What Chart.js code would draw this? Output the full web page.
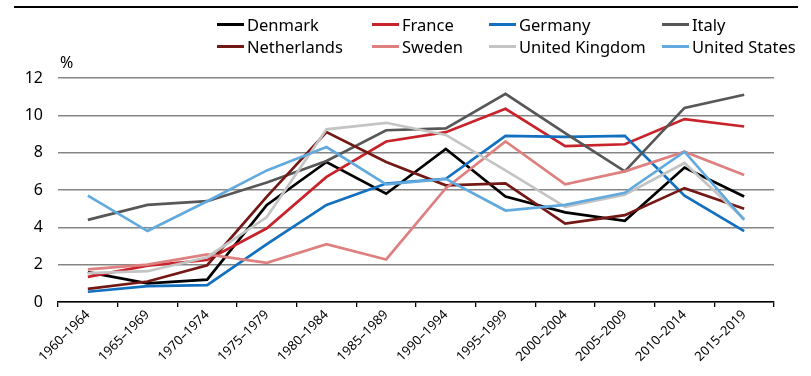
<!DOCTYPE html>
<html>
<head>
<meta charset="utf-8">
<script src="https://cdn.jsdelivr.net/npm/chart.js@4/dist/chart.umd.min.js"></script>
<style>
  html, body { margin: 0; padding: 0; background: #fff; }
  #wrap { position: relative; width: 811px; height: 376px; font-family: "Noto Sans", sans-serif; color: #000; }
  #chart { position: absolute; left: 0; top: 0; }
  #topRule { position: absolute; left: 14px; top: 6px; width: 784px; height: 2px; background: #000; }
  #unit { position: absolute; left: 60px; top: 51px; font-size: 16px; }
  .legend-item { position: absolute; display: flex; align-items: center; font-size: 16.5px; white-space: nowrap; }
  .legend-item .swatch { width: 27px; height: 3px; margin-right: 3px; }
</style>
</head>
<body>
<div id="wrap">
  <canvas id="chart" width="811" height="376"></canvas>
  <div id="topRule"></div>
  <div id="unit">%</div>
</div>
<script>
const periods = ['1960–1964', '1965–1969', '1970–1974', '1975–1979', '1980–1984', '1985–1989',
                 '1990–1994', '1995–1999', '2000–2004', '2005–2009', '2010–2014', '2015–2019'];

const denmark     = [1.6, 1.0, 1.2, 5.2, 7.5, 5.8, 8.2, 5.65, 4.8, 4.35, 7.2, 5.65];
const france      = [1.35, 1.95, 2.25, 3.95, 6.7, 8.6, 9.1, 10.35, 8.35, 8.45, 9.8, 9.4];
const germany     = [0.55, 0.85, 0.9, 3.1, 5.2, 6.35, 6.6, 8.9, 8.85, 8.9, 5.7, 3.8];
const italy       = [4.4, 5.2, 5.4, 6.4, 7.55, 9.2, 9.3, 11.15, 9.05, 7.0, 10.4, 11.1];
const netherlands = [0.7, 1.1, 1.97, 5.65, 9.1, 7.5, 6.25, 6.35, 4.2, 4.65, 6.1, 5.0];
const sweden      = [1.75, 2.0, 2.55, 2.1, 3.1, 2.28, 6.1, 8.6, 6.3, 7.0, 8.05, 6.8];
const unitedKingdom = [1.55, 1.65, 2.4, 4.55, 9.25, 9.6, 8.95, 7.05, 5.1, 5.75, 7.45, 4.45];
const unitedStates  = [5.7, 3.8, 5.4, 7.05, 8.3, 6.3, 6.6, 4.9, 5.2, 5.85, 8.05, 4.4];

const yTicks = [0, 2, 4, 6, 8, 10, 12];

const series = [
  { label: 'Denmark',        data: denmark,       color: '#000000' },
  { label: 'France',         data: france,        color: '#c8232b' },
  { label: 'Germany',        data: germany,       color: '#1270bf' },
  { label: 'Italy',          data: italy,         color: '#575757' },
  { label: 'Netherlands',    data: netherlands,   color: '#731815' },
  { label: 'Sweden',         data: sweden,        color: '#df8080' },
  { label: 'United Kingdom', data: unitedKingdom, color: '#c4c4c4' },
  { label: 'United States',  data: unitedStates,  color: '#62aade' }
];

// legend: two rows of four, placed over the canvas
const legendCols = [217, 372, 489, 662];
const legendRows = [13, 35];
const wrap = document.getElementById('wrap');
series.forEach((s, i) => {
  const item = document.createElement('div');
  item.className = 'legend-item';
  item.style.left = legendCols[i % 4] + 'px';
  item.style.top = legendRows[Math.floor(i / 4)] + 'px';
  item.innerHTML = `<span class="swatch" style="background:${s.color}"></span>${s.label}`;
  wrap.appendChild(item);
});

const ctx = document.getElementById('chart').getContext('2d');
new Chart(ctx, {
  type: 'line',
  data: {
    labels: periods,
    datasets: series.map((s, i) => ({
      label: s.label,
      data: s.data,
      borderColor: s.color,
      backgroundColor: s.color,
      borderWidth: 2.7,
      pointRadius: 0,
      tension: 0,
      fill: false,
      order: series.length - i   // later series on top
    }))
  },
  options: {
    responsive: false,
    animation: false,
    layout: { padding: { top: 78, right: 37, left: 0, bottom: 0 } },
    plugins: {
      legend: { display: false },
      tooltip: { enabled: false }
    },
    scales: {
      x: {
        offset: true,
        afterFit: s => { s.height = 74; },
        grid: { offset: true, drawOnChartArea: false, drawTicks: true, tickLength: 5, color: '#000', lineWidth: 1.3 },
        border: { display: true, color: '#000', width: 1.5 },
        ticks: {
          minRotation: 45, maxRotation: 45, autoSkip: false, padding: 0,
          color: '#000', font: { family: 'Noto Sans', size: 13 }
        }
      },
      y: {
        min: 0, max: 12,
        afterFit: s => { s.width = 58; },
        afterBuildTicks: s => { s.ticks = yTicks.map(v => ({ value: v })); },
        grid: { drawTicks: false, color: '#858585', lineWidth: 1.5 },
        border: { display: false },
        ticks: { padding: 15, color: '#000', font: { family: 'Noto Sans', size: 16 } }
      }
    }
  }
});
</script>
</body>
</html>
